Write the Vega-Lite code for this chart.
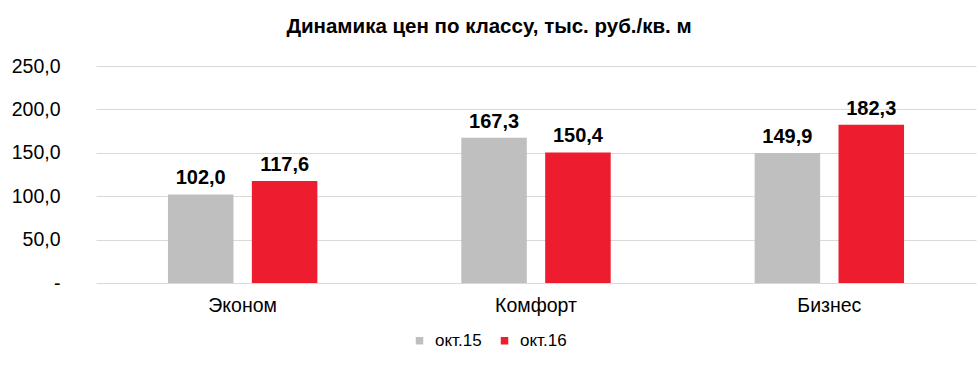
{
  "$schema": "https://vega.github.io/schema/vega-lite/v6.json",
  "width": 880,
  "height": 217,
  "autosize": {"type": "none"},
  "padding": {"left": 96, "top": 66, "right": 1, "bottom": 86},
  "background": "white",
  "title": {
    "text": "Динамика цен по классу, тыс. руб./кв. м",
    "font": "Liberation Sans",
    "fontSize": 20.5,
    "fontWeight": "bold",
    "color": "black",
    "anchor": "middle",
    "dx": -47,
    "baseline": "alphabetic",
    "offset": 3
  },
  "config": {
    "locale": {"number": {"decimal": ",", "thousands": " ", "grouping": [3], "currency": ["", ""]}},
    "view": {"stroke": null},
    "font": "Liberation Sans"
  },
  "data": {
    "values": [
      {"class": "Эконом", "period": "окт.15", "value": 102.0},
      {"class": "Эконом", "period": "окт.16", "value": 117.6},
      {"class": "Комфорт", "period": "окт.15", "value": 167.3},
      {"class": "Комфорт", "period": "окт.16", "value": 150.4},
      {"class": "Бизнес", "period": "окт.15", "value": 149.9},
      {"class": "Бизнес", "period": "окт.16", "value": 182.3}
    ]
  },
  "encoding": {
    "x": {
      "field": "class",
      "type": "nominal",
      "sort": ["Эконом", "Комфорт", "Бизнес"],
      "scale": {"paddingInner": 0, "paddingOuter": 0},
      "axis": {
        "title": null,
        "domain": false,
        "ticks": false,
        "labelAngle": 0,
        "labelFontSize": 19.5,
        "labelColor": "black",
        "labelPadding": 13
      }
    },
    "xOffset": {
      "field": "period",
      "type": "nominal",
      "sort": ["окт.15", "окт.16"],
      "scale": {"paddingInner": 0.219, "paddingOuter": 0.858}
    },
    "y": {
      "field": "value",
      "type": "quantitative",
      "scale": {"domain": [0, 250], "nice": false},
      "axis": {
        "title": null,
        "values": [0, 50, 100, 150, 200, 250],
        "format": ".1f",
        "labelExpr": "datum.value == 0 ? '-' : datum.label",
        "domain": false,
        "ticks": false,
        "labelFontSize": 19.5,
        "labelColor": "black",
        "labelPadding": 36,
        "gridColor": "#D9D9D9",
        "gridWidth": 1
      }
    }
  },
  "layer": [
    {
      "mark": {"type": "bar"},
      "encoding": {
        "color": {
          "field": "period",
          "type": "nominal",
          "sort": ["окт.15", "окт.16"],
          "scale": {"domain": ["окт.15", "окт.16"], "range": ["#BFBFBF", "#ED1C2E"]},
          "legend": {
            "title": null,
            "orient": "none",
            "direction": "horizontal",
            "legendX": 315,
            "legendY": 266,
            "symbolType": "square",
            "symbolSize": 56,
            "symbolStrokeWidth": 0,
            "labelFontSize": 17,
            "labelColor": "black",
            "columnPadding": 14,
            "labelOffset": 7
          }
        }
      }
    },
    {
      "mark": {"type": "text", "baseline": "alphabetic", "dy": -10, "fontSize": 20, "fontWeight": "bold", "color": "black"},
      "encoding": {
        "text": {"field": "value", "type": "quantitative", "format": ".1f"}
      }
    }
  ]
}
